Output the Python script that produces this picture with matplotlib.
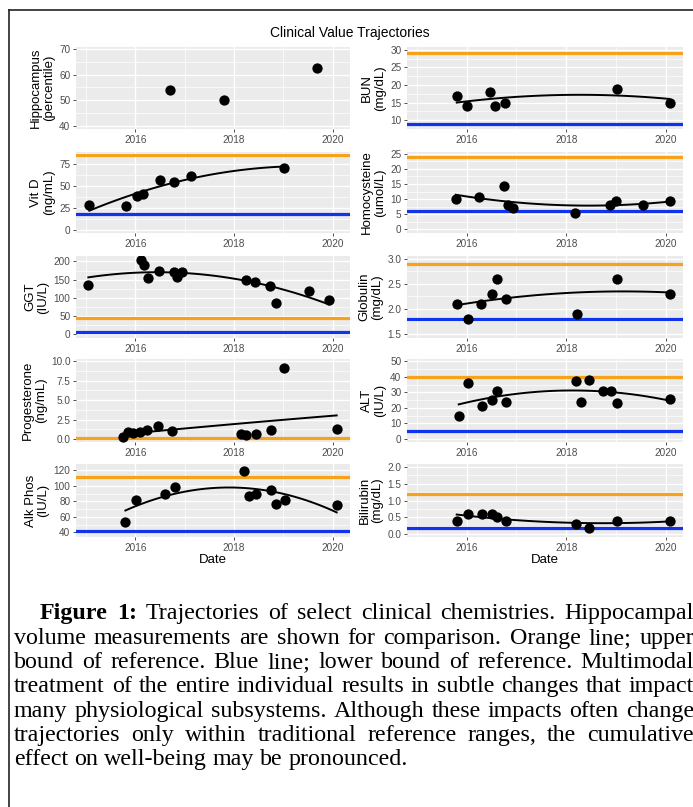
import numpy as np
import matplotlib
matplotlib.use('Agg')
import matplotlib.pyplot as plt
from matplotlib.lines import Line2D
from matplotlib.ticker import FormatStrFormatter, MultipleLocator

plt.rcParams['font.family'] = ['Liberation Sans', 'DejaVu Sans']

# measurements (decimal year, value)
hip_x = [2016.71, 2017.79, 2019.69]
hip_y = [54, 50, 62.5]

bun_x = [2015.8, 2016.0, 2016.47, 2016.57, 2016.78, 2019.03, 2020.08]
bun_y = [17, 14, 18, 14, 15, 19, 15]

vitd_x = [2015.07, 2015.81, 2016.03, 2016.15, 2016.51, 2016.79, 2017.13, 2019.02]
vitd_y = [28, 27, 38, 41, 57, 55, 62, 71]

homo_x = [2015.78, 2016.25, 2016.75, 2016.84, 2016.93, 2018.18, 2018.88, 2019.0, 2019.54, 2020.08]
homo_y = [10.2, 10.6, 14.5, 8.1, 7.0, 5.4, 8.2, 9.5, 8.0, 9.3]

ggt_x = [2015.05, 2016.11, 2016.17, 2016.26, 2016.49, 2016.78, 2016.84, 2016.95,
         2018.25, 2018.42, 2018.72, 2018.86, 2019.51, 2019.92]
ggt_y = [135, 205, 190, 154, 175, 170, 157, 172, 149, 143, 132, 85, 118, 93]

glob_x = [2015.81, 2016.03, 2016.28, 2016.5, 2016.6, 2016.8, 2018.22, 2019.03, 2020.08]
glob_y = [2.1, 1.8, 2.1, 2.3, 2.6, 2.2, 1.9, 2.6, 2.3]

prog_x = [2015.76, 2015.86, 2015.95, 2016.1, 2016.24, 2016.46, 2016.75,
          2018.15, 2018.25, 2018.45, 2018.75, 2019.02, 2020.08]
prog_y = [0.3, 0.85, 0.7, 0.9, 1.15, 1.7, 1.0, 0.6, 0.55, 0.6, 1.1, 9.2, 1.3]

alt_x = [2015.84, 2016.02, 2016.3, 2016.5, 2016.6, 2016.8, 2018.2, 2018.3,
         2018.45, 2018.75, 2018.9, 2019.03, 2020.08]
alt_y = [15, 36, 21, 25, 31, 24, 37, 24, 38, 31, 31, 23, 26]

alk_x = [2015.8, 2016.02, 2016.6, 2016.8, 2018.2, 2018.3, 2018.45, 2018.75, 2018.85, 2019.03, 2020.08]
alk_y = [53, 82, 90, 99, 119, 87, 89, 95, 76, 82, 75]

bili_x = [2015.8, 2016.02, 2016.3, 2016.5, 2016.6, 2016.8, 2018.2, 2018.45, 2019.03, 2020.08]
bili_y = [0.4, 0.6, 0.6, 0.6, 0.5, 0.4, 0.3, 0.2, 0.4, 0.4]

# reference bounds (lower, upper)
bun_ref = (9, 29)
vitd_ref = (18, 85)
homo_ref = (6, 24)
ggt_ref = (7, 46)
glob_ref = (1.8, 2.9)
prog_ref = (None, 0.15)
alt_ref = (5, 40)
alk_ref = (42, 111)
bili_ref = (0.2, 1.2)

W, H = 693, 807
fig = plt.figure(figsize=(W / 100, H / 100), dpi=100)

ORANGE = '#f7a21b'
BLUE = '#1233ee'


def panel(left, top, right, bottom, x, y, label, ylim, ystep, ref=None,
          fmt='%d', smooth=True, xlabel=None):
    ax = fig.add_axes([left / W, 1 - bottom / H, (right - left) / W, (bottom - top) / H])
    ax.set_facecolor('#ebebeb')
    for s in ax.spines.values():
        s.set_visible(False)
    ax.set_xlim(2014.8, 2020.35)
    ax.set_ylim(*ylim)
    ax.xaxis.set_major_locator(MultipleLocator(2))
    ax.xaxis.set_minor_locator(MultipleLocator(1))
    ax.yaxis.set_major_locator(MultipleLocator(ystep))
    ax.yaxis.set_minor_locator(MultipleLocator(ystep / 2))
    ax.yaxis.set_major_formatter(FormatStrFormatter(fmt))
    ax.grid(which='major', color='white', lw=1.0)
    ax.grid(which='minor', color='white', lw=0.5)
    ax.set_axisbelow(True)
    ax.tick_params(which='major', length=2.5, width=0.6, color='#333333',
                   labelcolor='#4d4d4d', labelsize=7.2, pad=1.5)
    ax.tick_params(which='minor', length=0)
    if ref is not None:
        lo, hi = ref
        if lo is not None:
            ax.axhline(lo, color=BLUE, lw=2.3, zorder=2)
        if hi is not None:
            ax.axhline(hi, color=ORANGE, lw=2.3, zorder=2)
    if smooth:
        c = np.polyfit(x, y, 2)
        xs = np.linspace(min(x), max(x), 100)
        ax.plot(xs, np.polyval(c, xs), color='black', lw=1.4, zorder=3)
    ax.scatter(x, y, s=55, color='black', zorder=4, linewidths=0)
    ax.set_ylabel(label, fontsize=9.5, linespacing=1.1, labelpad=3)
    if xlabel:
        ax.set_xlabel(xlabel, fontsize=9.5, labelpad=1)
    return ax


L0, L1 = 76, 350
R0, R1 = 407, 683
rows = [(47, 129), (152, 233), (256, 338), (359, 442), (464, 537)]

panel(L0, rows[0][0], L1, rows[0][1], hip_x, hip_y, 'Hippocampus\n(percentile)',
      (39, 70.6), 10, smooth=False)
panel(R0, rows[0][0], R1, rows[0][1], bun_x, bun_y, 'BUN\n(mg/dL)',
      (7.5, 30.8), 5, bun_ref)
panel(L0, rows[1][0], L1, rows[1][1], vitd_x, vitd_y, 'Vit D\n(ng/mL)',
      (-4, 89), 25, vitd_ref)
panel(R0, rows[1][0], R1, rows[1][1], homo_x, homo_y, 'Homocysteine\n(umol/L)',
      (-1.2, 25.6), 5, homo_ref)
panel(L0, rows[2][0], L1, rows[2][1], ggt_x, ggt_y, 'GGT\n(IU/L)',
      (-10, 215), 50, ggt_ref)
panel(R0, rows[2][0], R1, rows[2][1], glob_x, glob_y, 'Globulin\n(mg/dL)',
      (1.42, 3.05), 0.5, glob_ref, fmt='%.1f')
panel(L0, rows[3][0], L1, rows[3][1], prog_x, prog_y, 'Progesterone\n(ng/mL)',
      (-0.4, 10.3), 2.5, prog_ref, fmt='%.1f')
panel(R0, rows[3][0], R1, rows[3][1], alt_x, alt_y, 'ALT\n(IU/L)',
      (-2, 51.5), 10, alt_ref)
panel(L0, rows[4][0], L1, rows[4][1], alk_x, alk_y, 'Alk Phos\n(IU/L)',
      (34, 128), 20, alk_ref, xlabel='Date')
panel(R0, rows[4][0], R1, rows[4][1], bili_x, bili_y, 'Bilirubin\n(mg/dL)',
      (-0.08, 2.08), 0.5, bili_ref, fmt='%.1f', xlabel='Date')

fig.text(0.505, 1 - 33 / H, 'Clinical Value Trajectories', ha='center', va='center', fontsize=10)

# frame around the figure
fig.add_artist(Line2D([9 / W, 9 / W], [0, 1 - 10 / H], color='#222222', lw=1.2))
fig.add_artist(Line2D([9 / W, 1], [1 - 10 / H, 1 - 10 / H], color='#222222', lw=1.2))

# caption, justified word by word
caption = [
    "Figure 1: Trajectories of select clinical chemistries. Hippocampal",
    "volume measurements are shown for comparison. Orange line; upper",
    "bound of reference. Blue line; lower bound of reference. Multimodal",
    "treatment of the entire individual results in subtle changes that impact",
    "many physiological subsystems. Although these impacts often change",
    "trajectories only within traditional reference ranges, the cumulative",
    "effect on well-being may be pronounced.",
]
baselines = [619, 644, 668, 692, 717, 741, 765]
serif = 'Liberation Serif'
renderer = fig.canvas.get_renderer()


def word_width(w, fs, bold):
    t = fig.text(0, 0, w, fontsize=fs, family=serif, weight='bold' if bold else 'normal')
    wd = t.get_window_extent(renderer).width
    t.remove()
    return wd


# pick font size so the last (unjustified) line spans its width in the reference
w10 = word_width(caption[-1], 10, False)
fs = 10 * 394 / w10

right_edge = 694
for i, line in enumerate(caption):
    words = line.split(' ')
    bolds = [i == 0 and k < 2 for k in range(len(words))]
    widths = [word_width(w, fs, b) for w, b in zip(words, bolds)]
    x0 = 40 if i == 0 else 14
    if i < len(caption) - 1:
        gap = (right_edge - x0 - sum(widths)) / (len(words) - 1)
    else:
        gap = word_width('a b', fs, False) - word_width('ab', fs, False)
    x = x0
    for w, b, wd in zip(words, bolds, widths):
        fig.text(x / W, 1 - baselines[i] / H, w, fontsize=fs, family=serif,
                 weight='bold' if b else 'normal', va='baseline', ha='left')
        x += wd + gap

fig.savefig('out.png', dpi=100)
